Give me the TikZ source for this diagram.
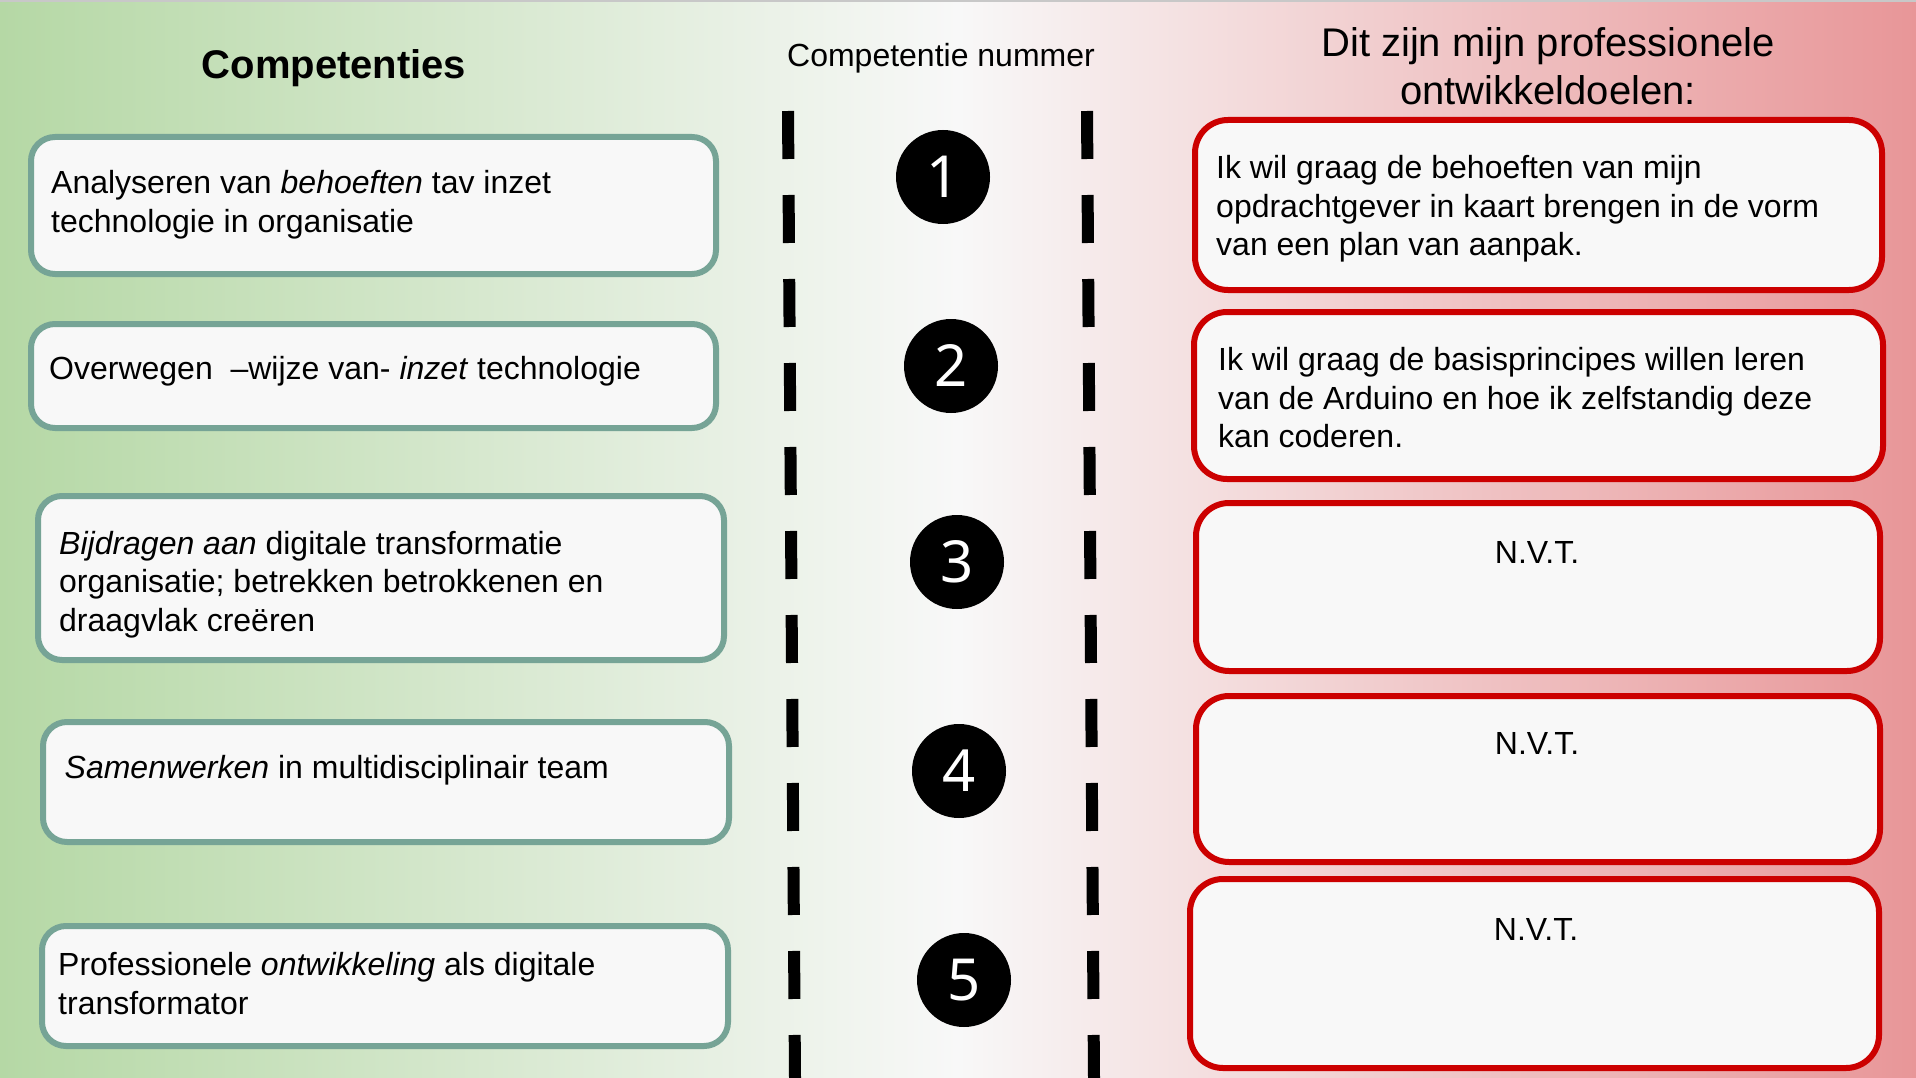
\documentclass[tikz,border=0pt]{standalone}
\usepackage{fontspec}
\setmainfont{Liberation Sans}
\newfontfamily\digitfont{Noto Sans}

\definecolor{bgGreen}{RGB}{181,216,165}
\definecolor{bgMid}{RGB}{248,248,248}
\definecolor{bgRed}{RGB}{232,150,152}
\definecolor{compEdge}{RGB}{118,164,150}
\definecolor{goalEdge}{RGB}{204,0,0}
\definecolor{boxFill}{RGB}{248,248,248}
\definecolor{topRule}{RGB}{200,200,200}

\begin{document}
\begin{tikzpicture}[x=1pt,y=-1pt,
  compbox/.style={draw=compEdge, fill=boxFill, line width=6pt, rounded corners=24pt,
    inner sep=0pt, outer sep=0pt, anchor=north west},
  goalbox/.style={draw=goalEdge, fill=boxFill, line width=6pt, rounded corners=33pt,
    inner sep=0pt, outer sep=0pt, anchor=north west},
  body/.style={font=\fontsize{32}{38.7}\selectfont, inner sep=0pt, anchor=base west},
  bodyc/.style={font=\fontsize{32}{38.7}\selectfont, inner sep=0pt, anchor=base},
  headbig/.style={font=\fontsize{40}{48}\selectfont, inner sep=0pt, anchor=base},
  numdisc/.style={circle, fill=black, minimum size=94pt, inner sep=0pt, text=white,
    font=\digitfont\fontsize{58}{58}\selectfont},
  divider/.style={line width=12pt, dash pattern=on 48pt off 36pt}
]
% page frame and background gradient (green - white - red)
\useasboundingbox (0,0) rectangle (1916,1078);
\shade[left color=bgGreen, right color=bgRed, middle color=bgMid] (0,0) rectangle (1916,1078);
\fill[topRule] (0,0) rectangle (1916,1.6);

% column headings
\node[headbig, font=\bfseries\fontsize{40}{48}\selectfont] (hcomp) at (334,79) {Competenties};
\node[bodyc] (hnum) at (941,67) {Competentie nummer};
\node[headbig] (hgoal1) at (1548,56.5) {Dit zijn mijn professionele};
\node[headbig] (hgoal2) at (1548,104.5) {ontwikkeldoelen:};

% dashed column dividers
\coordinate (dlt) at (788,111);
\coordinate (dlb) at (795,1078);
\coordinate (drt) at (1087,111);
\coordinate (drb) at (1094,1078);
\draw[divider] (dlt) -- (dlb);
\draw[divider] (drt) -- (drb);

% competence boxes
\node[compbox, minimum width=685pt, minimum height=137pt] (c1) at (31,137) {};
\node[compbox, minimum width=685pt, minimum height=104pt] (c2) at (31,324) {};
\node[compbox, minimum width=686pt, minimum height=164pt] (c3) at (38,496) {};
\node[compbox, minimum width=686pt, minimum height=120pt] (c4) at (43,722) {};
\node[compbox, minimum width=686pt, minimum height=120pt] (c5) at (42,926) {};

\node[body] (t1) at (51,193.5) {\vtop{\hbox{Analyseren van \textit{behoeften} tav inzet}\hbox{technologie in organisatie}}};
\node[body] (t2) at (49,379) {Overwegen\ \ –wijze van- \textit{inzet} technologie};
\node[body] (t3) at (59,554) {\vtop{\hbox{\textit{Bijdragen aan} digitale transformatie}\hbox{organisatie; betrekken betrokkenen en}\hbox{draagvlak creëren}}};
\node[body] (t4) at (64.5,778) {\textit{Samenwerken} in multidisciplinair team};
\node[body] (t5) at (58,975.5) {\vtop{\hbox{Professionele \textit{ontwikkeling} als digitale}\hbox{transformator}}};

% numbered discs
\node[numdisc] (n1) at (943,177) {1};
\node[numdisc] (n2) at (951,366) {2};
\node[numdisc] (n3) at (957,562) {3};
\node[numdisc] (n4) at (959,771) {4};
\node[numdisc] (n5) at (964,980) {5};

% goal boxes
\node[goalbox, minimum width=687pt, minimum height=170pt] (g1) at (1195,120) {};
\node[goalbox, minimum width=689pt, minimum height=167pt] (g2) at (1194,312) {};
\node[goalbox, minimum width=684pt, minimum height=168pt] (g3) at (1196,503) {};
\node[goalbox, minimum width=684pt, minimum height=166pt] (g4) at (1196,696) {};
\node[goalbox, minimum width=689pt, minimum height=189pt] (g5) at (1190,879) {};

\node[body] (u1) at (1216,178.5) {\vtop{\hbox{Ik wil graag de behoeften van mijn}\hbox{opdrachtgever in kaart brengen in de vorm}\hbox{van een plan van aanpak.}}};
\node[body] (u2) at (1218,370.5) {\vtop{\hbox{Ik wil graag de basisprincipes willen leren}\hbox{van de Arduino en hoe ik zelfstandig deze}\hbox{kan coderen.}}};
\node[bodyc] (u3) at (1537,563) {N.V.T.};
\node[bodyc] (u4) at (1537,754) {N.V.T.};
\node[bodyc] (u5) at (1536,940) {N.V.T.};
\end{tikzpicture}
\end{document}
